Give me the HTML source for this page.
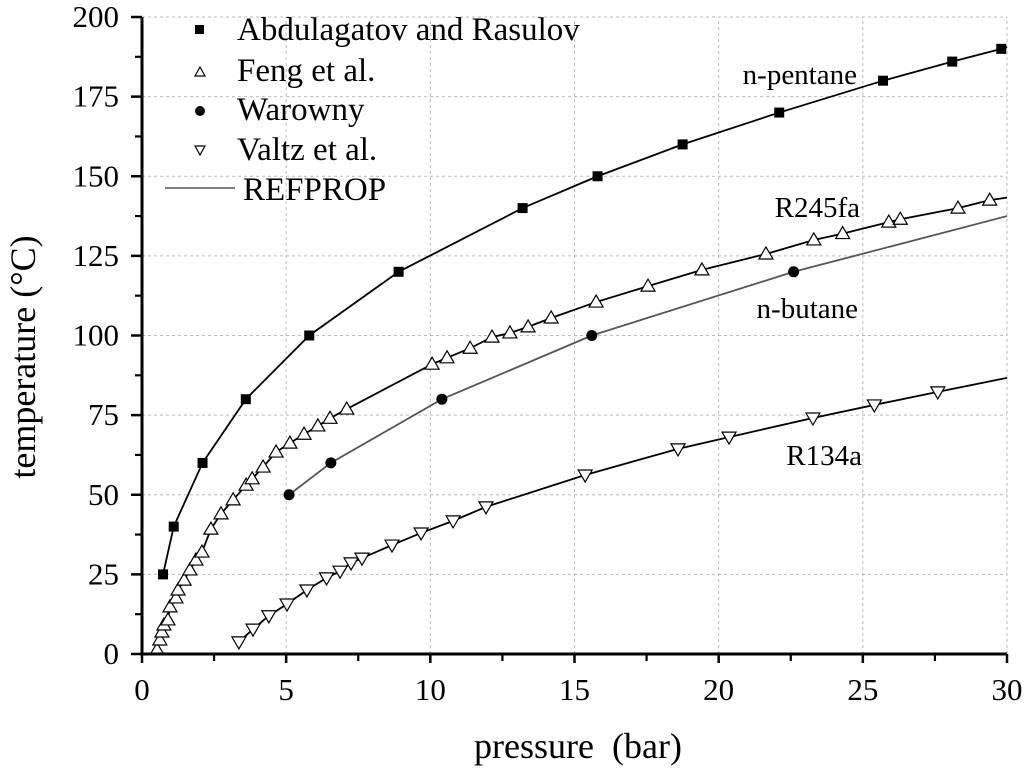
<!DOCTYPE html>
<html><head><meta charset="utf-8"><style>
body{margin:0;background:#fff}
svg{display:block;font-family:"Liberation Serif",serif}
</style></head><body>
<svg id="chart" width="1024" height="770" viewBox="0 0 1024 770" xmlns="http://www.w3.org/2000/svg">
<g id="grid"></g>
<g id="lines"></g>
<g id="marks"></g>
<g id="axes"></g>
<text x="0" y="0" transform="translate(35,357) rotate(-90)" text-anchor="middle" font-size="36">temperature (°C)</text>
<text x="578" y="758" text-anchor="middle" font-size="36" xml:space="preserve">pressure  (bar)</text>
<text x="857" y="84" text-anchor="end" font-size="29">n-pentane</text>
<text x="860" y="217" text-anchor="end" font-size="29">R245fa</text>
<text x="858" y="318" text-anchor="end" font-size="29">n-butane</text>
<text x="862" y="465" text-anchor="end" font-size="29">R134a</text>
<g>
<rect x="195" y="25" width="9" height="9" fill="#000"/>
<text x="237" y="40" font-size="33">Abdulagatov and Rasulov</text>
<path d="M200,67 L205,76 L195,76 Z" fill="#fff" stroke="#000" stroke-width="1.2"/>
<text x="237" y="81" font-size="33">Feng et al.</text>
<circle cx="200" cy="111" r="5" fill="#000"/>
<text x="237" y="120" font-size="33">Warowny</text>
<path d="M195,146 L205,146 L200,155 Z" fill="#fff" stroke="#000" stroke-width="1.2"/>
<text x="237" y="160" font-size="33">Valtz et al.</text>
<line x1="165" y1="188" x2="235" y2="188" stroke="#333" stroke-width="1.3"/>
<text x="243" y="200" font-size="33">REFPROP</text>
</g>
</svg>
<script>
const xTicks=[0,5,10,15,20,25,30];
const yTicks=[0,25,50,75,100,125,150,175,200];
const pentaneP=[0.73,1.1,2.1,3.6,5.8,8.9,13.2,15.8,18.75,22.1,25.7,28.1,29.8];
const pentaneT=[25,40,60,80,100,120,140,150,160,170,180,186,190];
const fengP=[0.52,0.62,0.69,0.76,0.9,0.97,1.18,1.25,1.46,1.66,1.87,2.08,2.39,2.74,3.16,3.61,3.82,4.2,4.65,5.13,5.62,6.1,6.52,7.1,10.06,10.58,11.38,12.14,12.76,13.39,14.19,15.75,17.55,19.42,21.64,23.3,24.3,25.9,26.3,28.3,29.4];
const fengT=[1.3,4.4,6.9,9.1,10.7,14.8,17.6,20.1,23.2,26.4,29.5,32,39.2,44,48.4,53,55,58.7,63.4,66.2,69,71.6,74,76.9,91,93,96,99.5,100.8,102.7,105.5,110.5,115.5,120.6,125.6,130,132,135.6,136.5,140,142.5];
const warownyP=[5.1,6.55,10.4,15.6,22.6];
const warownyT=[50,60,80,100,120];
const valtzP=[3.36,3.85,4.4,5.03,5.72,6.4,6.87,7.25,7.63,8.67,9.68,10.79,11.93,15.37,18.59,20.36,23.27,25.4,27.6];
const valtzT=[3.8,7.8,12,15.7,20.1,23.9,26,28.6,30.1,34.2,38,41.8,46.2,56.2,64.4,68.1,74.1,78.2,82.3];
const endP=30;
const pentaneEndT=190.5, fengEndT=143.3, warownyEndT=137.5, valtzEndT=86.7;
const NS="http://www.w3.org/2000/svg";
const X=v=>142+v*(1007-142)/30;
const Y=v=>654-v*(654-17)/200;
function mk(tag,attrs,parent){const e=document.createElementNS(NS,tag);for(const k in attrs)e.setAttribute(k,attrs[k]);parent.appendChild(e);return e;}
const grid=document.getElementById('grid'),axes=document.getElementById('axes'),lines=document.getElementById('lines'),marks=document.getElementById('marks');
xTicks.forEach(t=>{if(t>0){const g=mk('line',{x1:X(t),x2:X(t),y1:Y(0),y2:Y(200),stroke:'#bbb','stroke-width':1,'stroke-dasharray':'3,3'},grid);

}
const tk=mk('line',{x1:X(t),x2:X(t),y1:Y(0),y2:Y(0)+9,stroke:'#000','stroke-width':2.5},axes);


const lb=mk('text',{x:X(t),y:700,'text-anchor':'middle','font-size':31},axes);lb.textContent=t;


if(t<30){const m=mk('line',{x1:X(t+2.5),x2:X(t+2.5),y1:Y(0),y2:Y(0)+7,stroke:'#000','stroke-width':2.2},axes);

}});
yTicks.forEach(t=>{if(t>0){const g=mk('line',{x1:X(0),x2:X(30),y1:Y(t),y2:Y(t),stroke:'#bbb','stroke-width':1,'stroke-dasharray':'3,3'},grid);

}
const tk=mk('line',{x1:X(0)-11,x2:X(0),y1:Y(t),y2:Y(t),stroke:'#000','stroke-width':2.5},axes);


const lb=mk('text',{x:119,y:Y(t)+10,'text-anchor':'end','font-size':31},axes);lb.textContent=t;


if(t<200){const m=mk('line',{x1:X(0)-7,x2:X(0),y1:Y(t+12.5),y2:Y(t+12.5),stroke:'#000','stroke-width':2.2},axes);

}});
const ax=mk('path',{d:`M${X(0)},${Y(200)} L${X(0)},${Y(0)} L${X(30)},${Y(0)}`,fill:'none',stroke:'#000','stroke-width':3},axes);


function line(P,T,endT,color,name){const pts=P.map((p,i)=>X(p)+','+Y(T[i]));pts.push(X(endP)+','+Y(endT));
const l=mk('polyline',{points:pts.join(' '),fill:'none',stroke:color,'stroke-width':1.8},lines);

}
line(pentaneP,pentaneT,pentaneEndT,'#000','refprop-n-pentane');
line(fengP,fengT,fengEndT,'#000','refprop-r245fa');
line(warownyP,warownyT,warownyEndT,'#555','refprop-n-butane');
line(valtzP,valtzT,valtzEndT,'#000','refprop-r134a');
pentaneP.forEach((p,i)=>{const e=mk('rect',{x:X(p)-5,y:Y(pentaneT[i])-5,width:10,height:10,fill:'#000'},marks);

});
fengP.forEach((p,i)=>{const x=X(p),y=Y(fengT[i]);const e=mk('path',{d:`M${x},${y-7} L${x+7},${y+5} L${x-7},${y+5} Z`,fill:'#fff',stroke:'#000','stroke-width':1.2},marks);

});
warownyP.forEach((p,i)=>{const e=mk('circle',{cx:X(p),cy:Y(warownyT[i]),r:5.5,fill:'#000'},marks);

});
valtzP.forEach((p,i)=>{const x=X(p),y=Y(valtzT[i]);const e=mk('path',{d:`M${x-7},${y-5} L${x+7},${y-5} L${x},${y+7} Z`,fill:'#fff',stroke:'#000','stroke-width':1.2},marks);

});
</script>
</body></html>
